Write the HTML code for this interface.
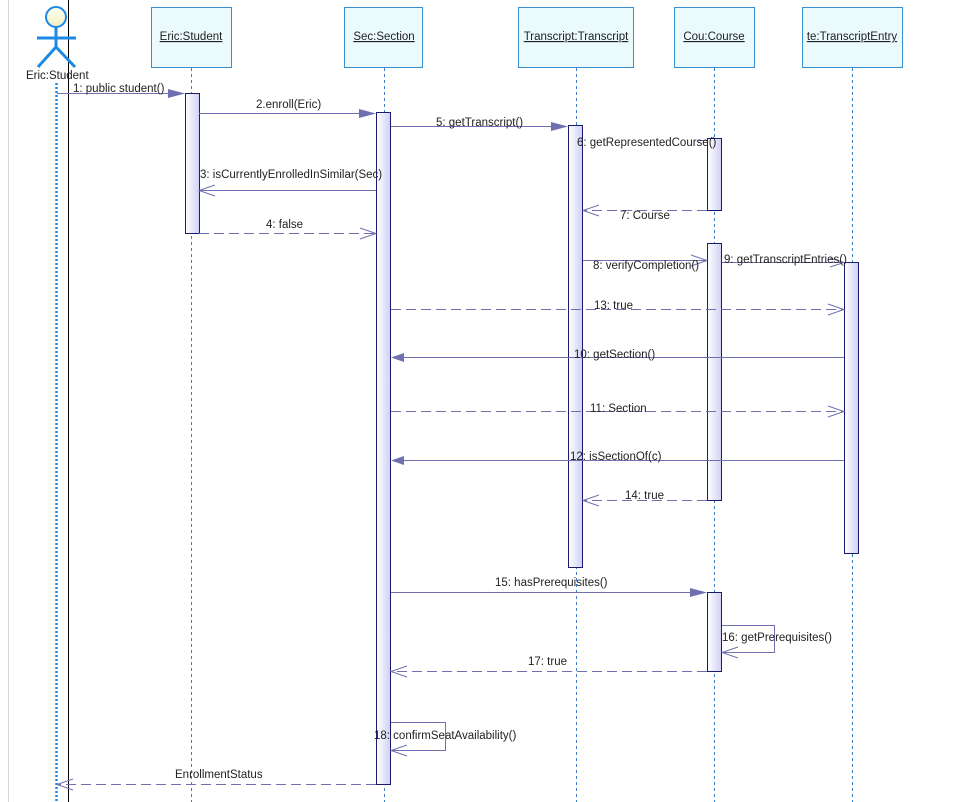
<!DOCTYPE html>
<html><head><meta charset="utf-8"><style>
body{margin:0;background:#fff;}
svg{display:block;font-family:"Liberation Sans",sans-serif;font-size:11.5px;}
</style></head><body>
<svg width="967" height="802" viewBox="0 0 967 802" xmlns="http://www.w3.org/2000/svg">
<defs>
<linearGradient id="act" x1="0" x2="1"><stop offset="0" stop-color="#fff"/><stop offset="1" stop-color="#d0d0f4"/></linearGradient>
<linearGradient id="hd" x1="0" x2="0" y1="0" y2="1"><stop offset="0" stop-color="#fffff0"/><stop offset="1" stop-color="#f0f0c0"/></linearGradient>
</defs>
<line x1="8.5" y1="0" x2="8.5" y2="802" stroke="#d8d8d8"/>
<line x1="68.5" y1="0" x2="68.5" y2="802" stroke="#000"/>
<!-- actor -->
<circle cx="56" cy="17" r="10" fill="url(#hd)" stroke="#1e88e5" stroke-width="2"/>
<g stroke="#1e88e5" stroke-width="3" fill="none">
<line x1="56" y1="27" x2="56" y2="48"/><line x1="37" y1="38" x2="76" y2="38"/>
<line x1="56" y1="47" x2="38" y2="67"/><line x1="56" y1="47" x2="75" y2="67"/>
</g>
<text x="26" y="79" fill="#222">Eric:Student</text>
<line x1="56.5" y1="83" x2="56.5" y2="802" stroke="#1e88e5" stroke-width="2.5" stroke-dasharray="2,2"/>
<!-- object boxes -->
<g fill="#ebfafc" stroke="#3a8fd0">
<rect x="151.5" y="7.5" width="80" height="60"/>
<rect x="344.5" y="7.5" width="78" height="60"/>
<rect x="518.5" y="7.5" width="115" height="60"/>
<rect x="674.5" y="7.5" width="80" height="60"/>
<rect x="802.5" y="7.5" width="100" height="60"/>
</g>
<g fill="#222" text-anchor="middle" text-decoration="underline">
<text x="191" y="40">Eric:Student</text>
<text x="384" y="40">Sec:Section</text>
<text x="576" y="40">Transcript:Transcript</text>
<text x="714" y="40">Cou:Course</text>
<text x="852" y="40">te:TranscriptEntry</text>
</g>
<g stroke="#3a7fc8" stroke-dasharray="3,3">
<line x1="191.5" y1="68" x2="191.5" y2="802"/>
<line x1="384.5" y1="68" x2="384.5" y2="802"/>
<line x1="576.5" y1="68" x2="576.5" y2="802"/>
<line x1="714.5" y1="68" x2="714.5" y2="802"/>
<line x1="852.5" y1="68" x2="852.5" y2="802"/>
</g>
<!-- activations -->
<g fill="url(#act)" stroke="#1a1a70">
<rect x="185.5" y="93.5" width="14" height="140"/>
<rect x="376.5" y="112.5" width="14" height="672"/>
<rect x="568.5" y="125.5" width="14" height="442"/>
<rect x="707.5" y="138.5" width="14" height="72"/>
<rect x="707.5" y="243.5" width="14" height="257"/>
<rect x="844.5" y="262.5" width="14" height="291"/>
<rect x="707.5" y="592.5" width="14" height="79"/>
</g>
<!-- messages -->
<g stroke="#7070b0" fill="none">
<line x1="57" y1="93.5" x2="176" y2="93.5"/>
<line x1="199" y1="113.5" x2="366" y2="113.5"/>
<line x1="391" y1="126.5" x2="558" y2="126.5"/>
<line x1="698" y1="140.5" x2="707" y2="140.5"/>
<line x1="376" y1="190.5" x2="199" y2="190.5"/>
<path d="M215,185 L199,190.5 L215,196"/>
<line x1="199" y1="233.5" x2="376" y2="233.5" stroke-dasharray="10,5"/>
<path d="M360,228 L376,233.5 L360,239"/>
<line x1="707" y1="210.5" x2="583" y2="210.5" stroke-dasharray="10,5"/>
<path d="M599,205 L583,210.5 L599,216"/>
<line x1="583" y1="260.5" x2="707" y2="260.5"/>
<path d="M691,255 L707,260.5 L691,266"/>
<line x1="722" y1="262.5" x2="844" y2="262.5"/>
<path d="M830,258 L844,262.5 L830,267"/>
<line x1="391" y1="309.5" x2="844" y2="309.5" stroke-dasharray="10,5"/>
<path d="M828,304 L844,309.5 L828,315"/>
<line x1="844" y1="357.5" x2="401" y2="357.5"/>
<line x1="391" y1="411.5" x2="844" y2="411.5" stroke-dasharray="10,5"/>
<path d="M828,406 L844,411.5 L828,417"/>
<line x1="844" y1="460.5" x2="401" y2="460.5"/>
<line x1="707" y1="500.5" x2="583" y2="500.5" stroke-dasharray="10,5"/>
<path d="M599,495 L583,500.5 L599,506"/>
<line x1="391" y1="592.5" x2="697" y2="592.5"/>
<path d="M722,625.5 H774.5 V652.5 H722"/>
<path d="M738,647 L722,652.5 L738,658"/>
<line x1="707" y1="671.5" x2="391" y2="671.5" stroke-dasharray="10,5"/>
<path d="M407,666 L391,671.5 L407,677"/>
<path d="M391,722.5 H445.5 V750.5 H391"/>
<path d="M407,745 L391,750.5 L407,756"/>
<line x1="376" y1="784.5" x2="57" y2="784.5" stroke-dasharray="10,5"/>
<path d="M73,779 L57,784.5 L73,790"/>
</g>
<g fill="#7070b0">
<path d="M185,93.5 L168,89 L168,98Z"/>
<path d="M376,113.5 L359,109 L359,118Z"/>
<path d="M568,126.5 L551,122 L551,131Z"/>
<path d="M391,357.5 L404,353 L404,362Z"/>
<path d="M391,460.5 L404,456 L404,465Z"/>
<path d="M707,592.5 L690,588 L690,597Z"/>
</g>
<g fill="#222">
<text x="73" y="92">1: public student()</text>
<text x="256" y="108">2.enroll(Eric)</text>
<text x="436" y="126">5: getTranscript()</text>
<text x="577" y="146">6: getRepresentedCourse()</text>
<text x="200" y="178">3: isCurrentlyEnrolledInSimilar(Sec)</text>
<text x="620" y="219">7: Course</text>
<text x="266" y="228">4: false</text>
<text x="593" y="269">8: verifyCompletion()</text>
<text x="724" y="263">9: getTranscriptEntries()</text>
<text x="594" y="309">13: true</text>
<text x="574" y="358">10: getSection()</text>
<text x="590" y="412">11: Section</text>
<text x="570" y="460">12: isSectionOf(c)</text>
<text x="625" y="499">14: true</text>
<text x="495" y="586">15: hasPrerequisites()</text>
<text x="722" y="641">16: getPrerequisites()</text>
<text x="528" y="665">17: true</text>
<text x="374" y="739">18: confirmSeatAvailability()</text>
<text x="175" y="778">EnrollmentStatus</text>
</g>
</svg>
</body></html>
